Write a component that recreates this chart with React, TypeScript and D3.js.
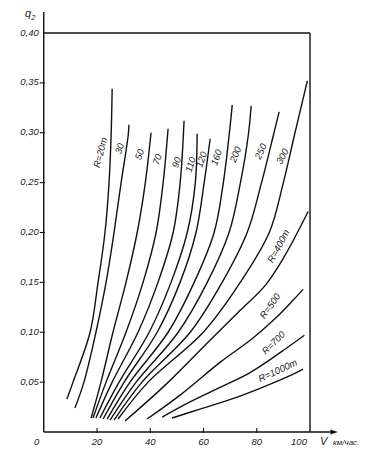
import React from 'react';
import * as d3 from 'd3';

// Axis ticks
const xTicks = [0, 20, 40, 60, 80, 100];
const xTickLabels = ['0', '20', '40', '60', '80', '100'];
const yTicks = [0.05, 0.1, 0.15, 0.2, 0.25, 0.3, 0.35, 0.4];
const yTickLabels = ['0,05', '0,10', '0,15', '0,20', '0,25', '0,30', '0,35', '0,40'];

// Curves: [V km/h, q2]
const curveR20: [number, number][] = [[8.7, 0.033], [11.0, 0.05], [17.4, 0.1], [20.4, 0.15], [23.0, 0.2], [24.5, 0.249], [25.3, 0.297], [25.7, 0.344]];
const curveR30: [number, number][] = [[11.7, 0.024], [15.1, 0.05], [19.6, 0.1], [23.4, 0.15], [26.4, 0.2], [29.0, 0.249], [31.7, 0.297], [32.0, 0.308]];
const curveR50: [number, number][] = [[17.8, 0.014], [21.5, 0.05], [26.0, 0.1], [30.9, 0.15], [35.1, 0.2], [38.1, 0.249], [40.3, 0.3]];
const curveR70: [number, number][] = [[18.5, 0.014], [23.4, 0.05], [30.9, 0.1], [37.3, 0.15], [42.2, 0.2], [44.8, 0.249], [46.7, 0.304]];
const curveR90: [number, number][] = [[19.6, 0.014], [25.7, 0.05], [35.4, 0.1], [42.9, 0.15], [48.6, 0.2], [51.2, 0.249], [52.7, 0.312]];
const curveR110: [number, number][] = [[21.1, 0.014], [28.3, 0.05], [39.6, 0.1], [47.8, 0.15], [53.9, 0.2], [56.9, 0.249], [57.6, 0.299]];
const curveR120: [number, number][] = [[22.3, 0.013], [30.2, 0.05], [42.6, 0.1], [51.2, 0.15], [57.2, 0.2], [60.2, 0.249], [62.5, 0.294]];
const curveR160: [number, number][] = [[23.8, 0.013], [32.4, 0.05], [46.7, 0.1], [56.5, 0.15], [64.0, 0.2], [67.4, 0.249], [69.6, 0.297], [70.8, 0.328]];
const curveR200: [number, number][] = [[24.9, 0.012], [34.7, 0.05], [50.5, 0.1], [61.4, 0.15], [69.6, 0.2], [73.8, 0.249], [76.8, 0.297], [77.9, 0.327]];
const curveR250: [number, number][] = [[26.4, 0.012], [36.9, 0.05], [55.0, 0.1], [67.0, 0.15], [76.4, 0.2], [81.7, 0.249], [86.2, 0.297], [88.4, 0.321]];
const curveR300: [number, number][] = [[27.9, 0.013], [39.2, 0.05], [59.9, 0.1], [73.8, 0.15], [84.7, 0.2], [89.9, 0.249], [94.1, 0.297], [99.0, 0.352]];
const curveR400: [number, number][] = [[30.5, 0.011], [45.6, 0.047], [60.6, 0.087], [73.8, 0.122], [83.2, 0.147], [90.6, 0.177], [99.3, 0.221]];
const curveR500: [number, number][] = [[38.8, 0.013], [51.2, 0.037], [66.3, 0.07], [78.5, 0.094], [87.0, 0.114], [93.6, 0.132], [97.4, 0.143]];
const curveR700: [number, number][] = [[44.5, 0.015], [51.2, 0.025], [62.5, 0.04], [76.5, 0.058], [82.5, 0.068], [90.6, 0.083], [97.9, 0.097]];
const curveR1000: [number, number][] = [[48.2, 0.014], [58.7, 0.023], [72.7, 0.035], [85.1, 0.048], [93.7, 0.058], [97.4, 0.063]];

const curves = [curveR20, curveR30, curveR50, curveR70, curveR90, curveR110, curveR120, curveR160, curveR200, curveR250, curveR300, curveR400, curveR500, curveR700, curveR1000];

// Curve labels: text, anchor V, anchor q, rotation
const labelTexts = ['R=20m', '30', '50', '70', '90', '110', '120', '160', '200', '250', '300', 'R=400m', 'R=500', 'R=700', 'R=1000m'];
const labelV = [21.5, 28.7, 36.2, 42.9, 50.1, 55.4, 59.5, 65.1, 72.3, 81.7, 89.9, 88.4, 85.2, 86.5, 88.0];
const labelQ = [0.28, 0.284, 0.278, 0.273, 0.27, 0.268, 0.273, 0.275, 0.278, 0.281, 0.276, 0.186, 0.126, 0.089, 0.061];
const labelRot = [-75, -72, -70, -70, -70, -72, -72, -70, -68, -65, -62, -62, -55, -45, -25];

export default function App() {
  const W = 386, H = 461;
  const x = d3.scaleLinear().domain([0, 100]).range([43.75, 310]);
  const y = d3.scaleLinear().domain([0, 0.4]).range([432, 33]);
  const line = d3.line<[number, number]>()
    .x(d => x(d[0]))
    .y(d => y(d[1]))
    .curve(d3.curveCatmullRom.alpha(0.5));
  const font = "'Liberation Sans', 'DejaVu Sans', sans-serif";
  const x0 = x(0), x100 = x(100), y0 = y(0), y40 = y(0.4);
  return (
    <svg width={W} height={H} style={{ position: 'absolute', left: 0, top: 0, background: '#fff' }}>
      <rect x={0} y={0} width={W} height={H} fill="#fff" />
      {/* axes */}
      <line x1={x0} y1={y0} x2={x0} y2={12} stroke="#111" strokeWidth={1.4} />
      <line x1={x0} y1={y0} x2={333} y2={y0} stroke="#111" strokeWidth={1.4} />
      <path d={`M338,${y0} L330,${y0 - 2.5} L331,${y0} L330,${y0 + 2.5} Z`} fill="#111" />
      {/* frame */}
      <line x1={x0} y1={y40} x2={x100} y2={y40} stroke="#111" strokeWidth={1.4} />
      <line x1={x100} y1={y40} x2={x100} y2={y0} stroke="#111" strokeWidth={1.4} />
      {/* y ticks */}
      {yTicks.map((t, i) => (
        <g key={'yt' + i}>
          {t < 0.4 && <line x1={x0 - 4} x2={x0 + 1} y1={y(t)} y2={y(t)} stroke="#111" strokeWidth={1.1} />}
          <text x={x0 - 5} y={y(t)} textAnchor="end" dominantBaseline="middle" fontSize={9.5} fontStyle="italic" fontFamily={font} fill="#222">{yTickLabels[i]}</text>
        </g>
      ))}
      {/* x ticks */}
      {xTicks.map((t, i) => (
        <g key={'xt' + i}>
          {t > 0 && t < 100 && <line x1={x(t)} x2={x(t)} y1={y0 - 4} y2={y0 + 1} stroke="#111" strokeWidth={1.1} />}
          <text x={t === 0 ? x(t) - 7 : t === 100 ? x(t) - 11 : x(t)} y={y0 + 13} textAnchor="middle" fontSize={9.5} fontStyle="italic" fontFamily={font} fill="#222">{xTickLabels[i]}</text>
        </g>
      ))}
      <text x={320} y={y0 + 13} fontSize={11} fontStyle="italic" fontFamily={font} fill="#222">V</text>
      <text x={333} y={y0 + 13} fontSize={8} fontStyle="italic" fontFamily={font} fill="#222">км/час.</text>
      <text x={25} y={17} fontSize={11} fontStyle="italic" fontFamily={font} fill="#222">q<tspan fontSize={7.5} dy={3}>2</tspan></text>
      {/* curves */}
      {curves.map((c, i) => (
        <path key={'c' + i} d={line(c) || ''} fill="none" stroke="#111" strokeWidth={1.4} />
      ))}
      {/* labels */}
      {labelTexts.map((t, i) => (
        <text key={'l' + i} transform={`translate(${x(labelV[i])},${y(labelQ[i])}) rotate(${labelRot[i]})`} textAnchor="middle" dominantBaseline="middle" fontSize={9.5} fontStyle="italic" fontFamily={font} fill="#222">{t}</text>
      ))}
    </svg>
  );
}
